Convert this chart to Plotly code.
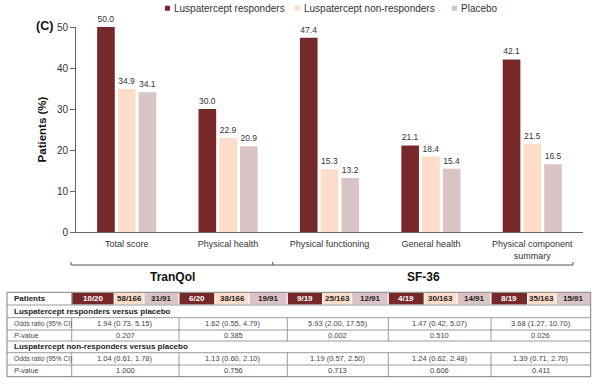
import plotly.graph_objects as go

# ---------------- data ----------------
categories = ["Total score", "Physical health", "Physical functioning",
              "General health", "Physical component<br>summary"]
series_names = ["Luspatercept responders", "Luspatercept non-responders", "Placebo"]
responders = [50.0, 30.0, 47.4, 21.1, 42.1]
non_responders = [34.9, 22.9, 15.3, 18.4, 21.5]
placebo = [34.1, 20.9, 13.2, 15.4, 16.5]
y_ticks = [0, 10, 20, 30, 40, 50]
group_labels = ["TranQol", "SF-36"]

n_responders = ["10/20", "6/20", "9/19", "4/19", "8/19"]
n_non_responders = ["58/166", "38/166", "25/163", "30/163", "35/163"]
n_placebo = ["31/91", "19/91", "12/91", "14/91", "15/91"]
or_responders = ["1.94 (0.73, 5.15)", "1.62 (0.55, 4.79)", "5.93 (2.00, 17.55)",
                 "1.47 (0.42, 5.07)", "3.68 (1.27, 10.70)"]
p_responders = ["0.207", "0.385", "0.002", "0.510", "0.026"]
or_non_responders = ["1.04 (0.61, 1.78)", "1.13 (0.60, 2.10)", "1.19 (0.57, 2.50)",
                     "1.24 (0.62, 2.48)", "1.39 (0.71, 2.70)"]
p_non_responders = ["1.000", "0.756", "0.713", "0.606", "0.411"]
row_labels = ["Patients", "Luspatercept responders versus placebo", "Odds ratio (95% CI)",
              "<i>P</i>-value", "Luspatercept non-responders versus placebo",
              "Odds ratio (95% CI)", "<i>P</i>-value"]

# ---------------- style / layout ----------------
colors = ["#772829", "#FDDCC9", "#D9C3C4"]
FONT = "Liberation Sans, Arial, Helvetica, sans-serif"
TXT = "#333333"
W, H = 600, 391
ML, MR, MT, MB = 76, 17, 27, 159
PW, PH = W - ML - MR, H - MT - MB


def px(x):
    return (x - ML) / PW


def py(y):
    return (H - MB - y) / PH


fig = go.Figure()
for name, vals, col in zip(series_names, [responders, non_responders, placebo], colors):
    fig.add_trace(go.Bar(
        x=categories, y=vals, name=name, marker=dict(color=col, line=dict(width=0)),
        text=[f"{v:.1f}" for v in vals], textposition="outside",
        textfont=dict(size=8.5, color=TXT, family=FONT),
        cliponaxis=False, constraintext="none", showlegend=False,
    ))

shapes = []
annotations = []


def line(x0, y0, x1, y1, color="#555555", width=1):
    shapes.append(dict(type="line", xref="paper", yref="paper",
                       x0=px(x0), y0=py(y0), x1=px(x1), y1=py(y1),
                       line=dict(color=color, width=width)))


def rect(x0, y0, x1, y1, fill, color="rgba(0,0,0,0)", width=0):
    shapes.append(dict(type="rect", xref="paper", yref="paper",
                       x0=px(x0), y0=py(y0), x1=px(x1), y1=py(y1),
                       fillcolor=fill, line=dict(color=color, width=width), layer="above"))


def text(x, y, s, size, color=TXT, anchor="center", bold=False, angle=0):
    annotations.append(dict(xref="paper", yref="paper", x=px(x), y=py(y),
                            text=f"<b>{s}</b>" if bold else s, showarrow=False,
                            xanchor=anchor, yanchor="middle", textangle=angle,
                            font=dict(size=size, color=color, family=FONT)))


# legend (manual, to mimic small square keys)
leg_sq = [165, 295, 452]
for name, col, x0 in zip(series_names, colors, leg_sq):
    rect(x0, 5.7, x0 + 5, 10.7, col)
    text(x0 + 7, 8.3, name, 10, anchor="left")

# panel label
text(44.5, 26, "(C)", 12.5, color="#111111", bold=True)

# bracket under categories
line(71, 265, 573, 265)
for xb in [71, 272.7, 573]:
    line(xb, 262, xb, 265)
text(172.5, 277, group_labels[0], 12, color="#111111", bold=True)
text(423, 277, group_labels[1], 12, color="#111111", bold=True)

# ---------------- table ----------------
TL, TR = 7, 590.7
col_edges = [71.7, 114.3, 144, 179, 215, 249, 287.3, 322.7, 351.7, 388.3,
             424.3, 457.3, 491, 527.7, 556, 590.7]
group_edges = [col_edges[0], col_edges[3], col_edges[6], col_edges[9], col_edges[12], col_edges[15]]
row_edges = [292.3, 305, 317.7, 330, 341, 352.7, 365, 376.7]

# header coloured cells
for g in range(5):
    counts = [n_responders[g], n_non_responders[g], n_placebo[g]]
    for k in range(3):
        x0, x1 = col_edges[3 * g + k], col_edges[3 * g + k + 1]
        rect(x0, row_edges[0], x1, row_edges[1], colors[k], color="#ffffff", width=1)
        text((x0 + x1) / 2, (row_edges[0] + row_edges[1]) / 2, counts[k], 8,
             color="#ffffff" if k == 0 else "#222222", bold=True)

GRID = "#9a9a9a"
for ye in row_edges[1:-1]:
    line(TL, ye, TR, ye, color=GRID, width=1)
# vertical lines
line(col_edges[0], row_edges[0], col_edges[0], row_edges[1], color=GRID)
for r in [2, 3, 5, 6]:
    for xe in group_edges[:-1]:
        line(xe, row_edges[r], xe, row_edges[r + 1], color=GRID)
# outer border
shapes.append(dict(type="rect", xref="paper", yref="paper",
                   x0=px(TL), y0=py(row_edges[0]), x1=px(TR), y1=py(row_edges[-1]),
                   line=dict(color="#7f7f7f", width=1), fillcolor="rgba(0,0,0,0)"))

# row labels
label_sizes = [8, 8, 6.6, 7.2, 8, 6.6, 7.2]
for r, (lab, sz) in enumerate(zip(row_labels, label_sizes)):
    yc = (row_edges[r] + row_edges[r + 1]) / 2
    text(11.5, yc, lab, sz, color="#222222" if r in (0, 1, 4) else "#444444",
         anchor="left", bold=r in (0, 1, 4))

# values
for r, vals in zip([2, 3, 5, 6], [or_responders, p_responders, or_non_responders, p_non_responders]):
    yc = (row_edges[r] + row_edges[r + 1]) / 2
    for g in range(5):
        xc = (group_edges[g] + group_edges[g + 1]) / 2
        text(xc, yc, vals[g], 7.5, color="#444444")

fig.update_layout(
    width=W, height=H, template="none",
    margin=dict(l=ML, r=MR, t=MT, b=MB, autoexpand=False),
    paper_bgcolor="white", plot_bgcolor="white",
    barmode="group", bargap=0.386, bargroupgap=0.15,
    font=dict(family=FONT, color=TXT),
    showlegend=False,
    xaxis=dict(type="category", showline=True, linecolor="#666666", linewidth=1,
               ticks="", showgrid=False, zeroline=False, automargin=False,
               ticklabelstandoff=3,
               tickfont=dict(size=9, color=TXT, family=FONT)),
    yaxis=dict(range=[0, 50], tickvals=y_ticks, showline=True, linecolor="#666666",
               linewidth=1, ticks="outside", ticklen=5, tickcolor="#666666",
               showgrid=False, zeroline=False, automargin=False,
               tickfont=dict(size=10, color=TXT, family=FONT),
               title=dict(text="<b>Patients (%)</b>", standoff=7,
                          font=dict(size=11.5, color="#111111", family=FONT))),
    shapes=shapes, annotations=annotations,
)

fig.write_html("out.html", config={"displayModeBar": False},
               post_script="document.body.style.margin='0';document.body.style.padding='0';")
